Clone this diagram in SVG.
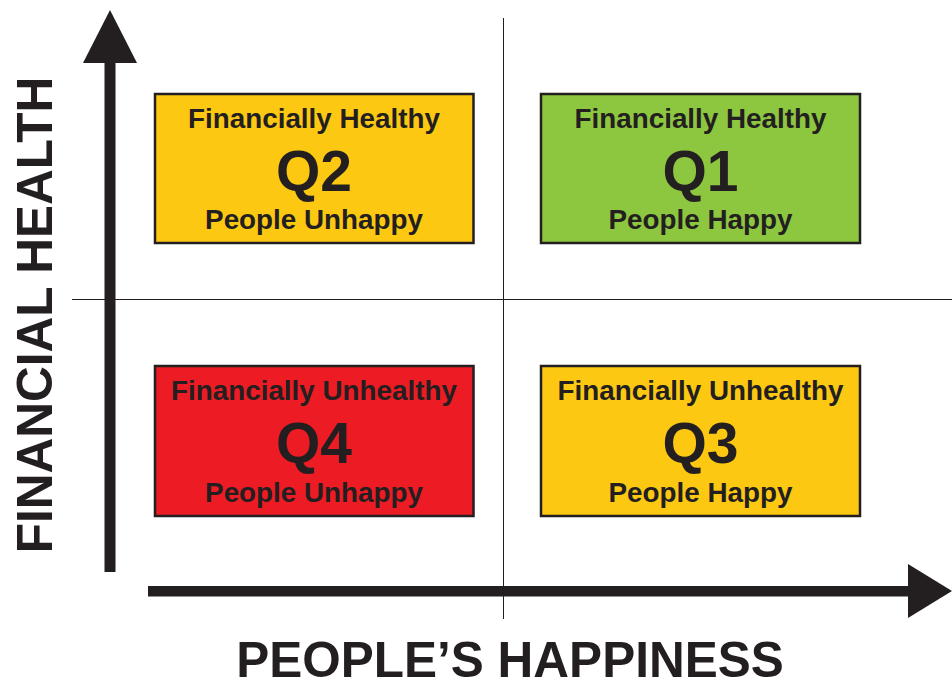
<svg xmlns="http://www.w3.org/2000/svg" width="952" height="685" viewBox="0 0 952 685">
  <style>
    .box { stroke: #231f20; stroke-width: 2.5; }
    .t { font-family: "Liberation Sans", Arial, sans-serif; font-weight: bold; fill: #231f20; text-anchor: middle; }
    .sm { font-size: 27.8px; }
    .q { font-size: 57px; }
    .ax { font-size: 49.5px; }
    .grid { stroke: #231f20; stroke-width: 1; fill: none; }
    .axis { fill: #231f20; }
  </style>

  <!-- quadrant divider lines -->
  <g id="connectors">
    <line class="grid" x1="503.5" y1="18" x2="503.5" y2="619"/>
    <line class="grid" x1="72" y1="299.5" x2="952" y2="299.5"/>
    <!-- vertical axis with arrowhead -->
    <rect class="axis" x="104.5" y="60" width="11" height="512"/>
    <polygon class="axis" points="110,10 83,63 137,63"/>
    <!-- horizontal axis with arrowhead -->
    <rect class="axis" x="148" y="586" width="762" height="10.5"/>
    <polygon class="axis" points="908,564 952,591 908,618"/>
  </g>

  <g id="q2">
    <rect class="box" x="155" y="94" width="318.5" height="149" fill="#fcc812"/>
    <text class="t sm" x="314" y="128">Financially Healthy</text>
    <text class="t q" x="314" y="191">Q2</text>
    <text class="t sm" x="314" y="229">People Unhappy</text>
  </g>

  <g id="q1">
    <rect class="box" x="541" y="94" width="319" height="149" fill="#8dc63f"/>
    <text class="t sm" x="700.5" y="128">Financially Healthy</text>
    <text class="t q" x="700.5" y="191">Q1</text>
    <text class="t sm" x="700.5" y="229">People Happy</text>
  </g>

  <g id="q4">
    <rect class="box" x="155" y="366" width="318.5" height="150" fill="#ed1c24"/>
    <text class="t sm" x="314" y="400">Financially Unhealthy</text>
    <text class="t q" x="314" y="463">Q4</text>
    <text class="t sm" x="314" y="502">People Unhappy</text>
  </g>

  <g id="q3">
    <rect class="box" x="541" y="366" width="319" height="150" fill="#fcc812"/>
    <text class="t sm" x="700.5" y="400">Financially Unhealthy</text>
    <text class="t q" x="700.5" y="463">Q3</text>
    <text class="t sm" x="700.5" y="502">People Happy</text>
  </g>

  <g id="axis-labels">
    <text class="t ax" x="510" y="677">PEOPLE’S HAPPINESS</text>
    <text class="t ax" transform="translate(52,315) rotate(-90)">FINANCIAL HEALTH</text>
  </g>
</svg>
